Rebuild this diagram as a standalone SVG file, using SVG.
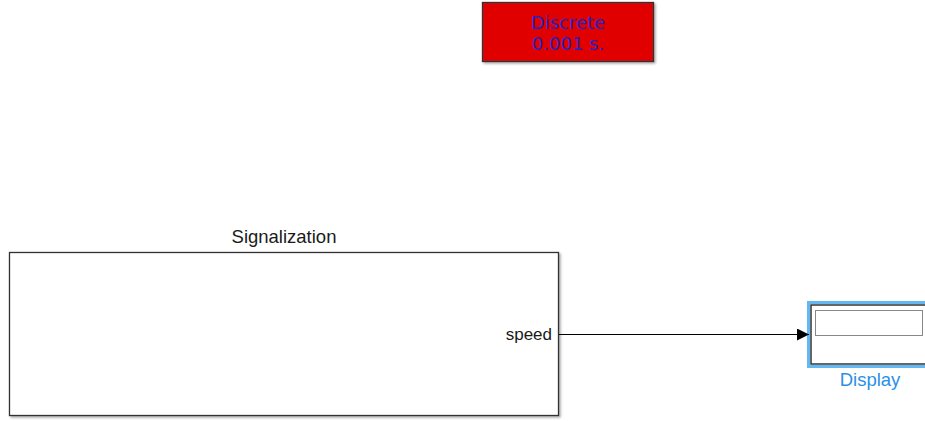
<svg xmlns="http://www.w3.org/2000/svg" width="925" height="421" viewBox="0 0 925 421">
<style>
text{font-family:"Liberation Sans",Arial,sans-serif;}
.lbl{font-size:18.5px;fill:#1a1a1a;}
.blk{stroke:#333;stroke-width:1.3;}
.dsc{font-family:"DejaVu Sans",Verdana,sans-serif;font-size:18px;fill:#2323c8;}
</style>
<defs>
<filter id="sh" x="-5%" y="-5%" width="112%" height="120%">
<feDropShadow dx="1.5" dy="1.5" stdDeviation="0.8" flood-color="#000" flood-opacity="0.35"/>
</filter>
<marker id="arr" markerWidth="12" markerHeight="12" refX="12" refY="6" orient="auto" markerUnits="userSpaceOnUse">
<path d="M0,0 L12,6 L0,12 Z" fill="#000"/>
</marker>
</defs>
<rect width="925" height="421" fill="#fff"/>
<g id="discrete">
<rect x="482.5" y="2.5" width="171" height="59" fill="#e00000" class="blk" filter="url(#sh)"/>
<text x="568" y="29" text-anchor="middle" class="dsc">Discrete</text>
<text x="568" y="50" text-anchor="middle" class="dsc">0.001 s.</text>
</g>
<g id="signalization">
<text x="284" y="243" text-anchor="middle" class="lbl">Signalization</text>
<rect x="9.5" y="252.5" width="549" height="163" fill="#fff" class="blk" filter="url(#sh)"/>
<text x="552" y="340" text-anchor="end" font-size="17" fill="#1a1a1a">speed</text>
</g>
<g id="display">
<rect x="808.5" y="302.5" width="130" height="64" fill="none" stroke="#62b8f2" stroke-width="3"/>
<rect x="811" y="305" width="130" height="59" fill="#fff" stroke="#333" stroke-width="1.5"/>
<rect x="815.5" y="310.5" width="107" height="25" fill="#fff" stroke="#888" stroke-width="1"/>
<text x="870" y="386" text-anchor="middle" font-size="18.5" fill="#2b8fe8">Display</text>
</g>
<g id="connectors">
<line x1="559" y1="334.5" x2="809" y2="334.5" stroke="#000" stroke-width="1" marker-end="url(#arr)"/>
</g>
</svg>
